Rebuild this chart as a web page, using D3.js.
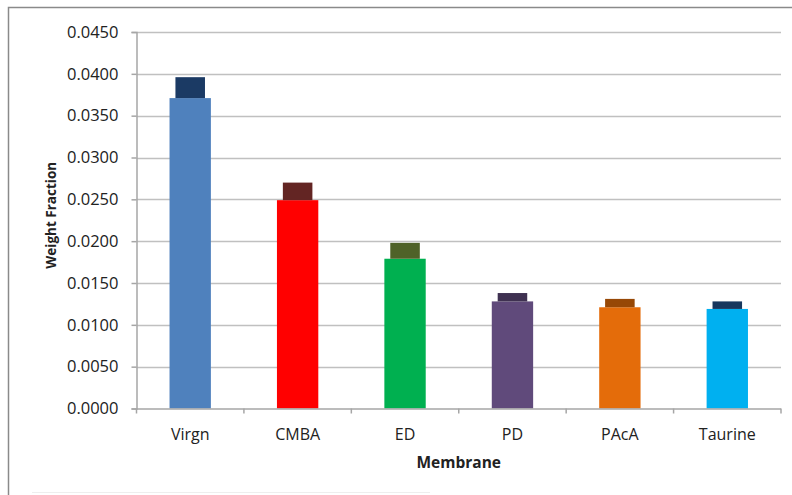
<!DOCTYPE html>
<html>
<head>
<meta charset="utf-8">
<script src="https://cdn.jsdelivr.net/npm/d3@7"></script>
<style>
  html, body { margin: 0; padding: 0; background: #fff; }
  svg { display: block; }
  text { font-family: "Open Sans", "Liberation Sans", sans-serif; fill: #222; }
</style>
</head>
<body>
<svg id="chart" width="792" height="495"></svg>
<script>
// ---- data ----
const categories = ["Virgn", "CMBA", "ED", "PD", "PAcA", "Taurine"];
const baseValues = [0.0371, 0.0249, 0.0179, 0.0128, 0.0121, 0.0119];
const capValues  = [0.0025, 0.0021, 0.0019, 0.0010, 0.0010, 0.0009];
const baseColors = ["#4F81BD", "#FF0000", "#00B050", "#604A7B", "#E46C0A", "#00B0F0"];
const capColors  = ["#1B3A64", "#632523", "#4F6228", "#3F3151", "#974806", "#17375E"];
const yTicks = [0, 0.005, 0.01, 0.015, 0.02, 0.025, 0.03, 0.035, 0.04, 0.045];
const xTitle = "Membrane";
const yTitle = "Weight Fraction";

// ---- layout ----
const svg = d3.select("#chart");
const mLeft = 136.5, mRight = 781, mTop = 32, mBottom = 408.5;

// outer frame
svg.append("rect")
  .attr("x", 8.5).attr("y", 7.5).attr("width", 800).attr("height", 500)
  .attr("fill", "none").attr("stroke", "#8a8a8a").attr("stroke-width", 1.5);
svg.append("line")
  .attr("x1", 32).attr("x2", 430).attr("y1", 492.5).attr("y2", 492.5)
  .attr("stroke", "#eeeeee").attr("stroke-width", 1);

const x = d3.scaleBand().domain(categories).range([mLeft, mRight]).padding(0);
const y = d3.scaleLinear().domain([0, 0.045]).range([mBottom, mTop]);

// gridlines
svg.append("g").selectAll("line")
  .data(yTicks.filter(d => d > 0))
  .join("line")
  .attr("x1", mLeft).attr("x2", mRight)
  .attr("y1", d => Math.round(y(d)) + 0.5).attr("y2", d => Math.round(y(d)) + 0.5)
  .attr("stroke", "#c0c0c0").attr("stroke-width", 1.5);

// y axis
const yAxis = d3.axisLeft(y).tickValues(yTicks).tickFormat(d3.format(".4f"))
  .tickSize(5).tickPadding(13);
const gy = svg.append("g").attr("transform", `translate(${mLeft},0)`).call(yAxis);
gy.select(".domain").attr("stroke", "#a6a6a6").attr("stroke-width", 1.5);
gy.selectAll(".tick line").attr("stroke", "#a6a6a6").attr("stroke-width", 1.5);
gy.selectAll(".tick text").attr("font-size", "16.5px").attr("fill", "#262626")
  .attr("font-family", "'Open Sans', sans-serif");

// stacked bars
const rows = categories.map((c, i) => ({ cat: c, base: baseValues[i], cap: capValues[i], i }));
const stack = d3.stack().keys(["base", "cap"]);
const series = stack(rows);
const bw = x.bandwidth();
const widthFrac = { base: 0.385, cap: 0.275 };
const colorFor = { base: baseColors, cap: capColors };

series.forEach(s => {
  svg.append("g").selectAll("rect")
    .data(s)
    .join("rect")
    .attr("x", d => x(d.data.cat) + bw / 2 - bw * widthFrac[s.key] / 2)
    .attr("width", bw * widthFrac[s.key])
    .attr("y", d => y(d[1]))
    .attr("height", d => y(d[0]) - y(d[1]))
    .attr("fill", d => colorFor[s.key][d.data.i]);
});

// x axis
const xAxis = d3.axisBottom(x).tickSize(0).tickPadding(20);
const gx = svg.append("g").attr("transform", `translate(0,${mBottom})`).call(xAxis);
gx.select(".domain").attr("stroke", "#a6a6a6").attr("stroke-width", 1.5)
  .attr("d", `M${mLeft},0.5H${mRight}`);
gx.selectAll(".tick text").attr("font-size", "16px").attr("fill", "#262626")
  .attr("font-family", "'Open Sans', sans-serif");
// boundary tick marks
const bounds = categories.map(c => x(c)).concat([mRight]);
gx.append("g").selectAll("line").data(bounds).join("line")
  .attr("x1", d => d).attr("x2", d => d).attr("y1", 0).attr("y2", 5)
  .attr("stroke", "#a6a6a6").attr("stroke-width", 1.5);

// titles
svg.append("text")
  .attr("x", (mLeft + mRight) / 2).attr("y", 468)
  .attr("text-anchor", "middle")
  .attr("font-weight", "bold").attr("font-size", "15.5px")
  .attr("fill", "#111")
  .text(xTitle);

svg.append("text")
  .attr("transform", `translate(56,${(mTop + mBottom) / 2 - 5}) rotate(-90)`)
  .attr("text-anchor", "middle")
  .attr("font-weight", "bold").attr("font-size", "13.5px")
  .attr("fill", "#111")
  .text(yTitle);
</script>
</body>
</html>
